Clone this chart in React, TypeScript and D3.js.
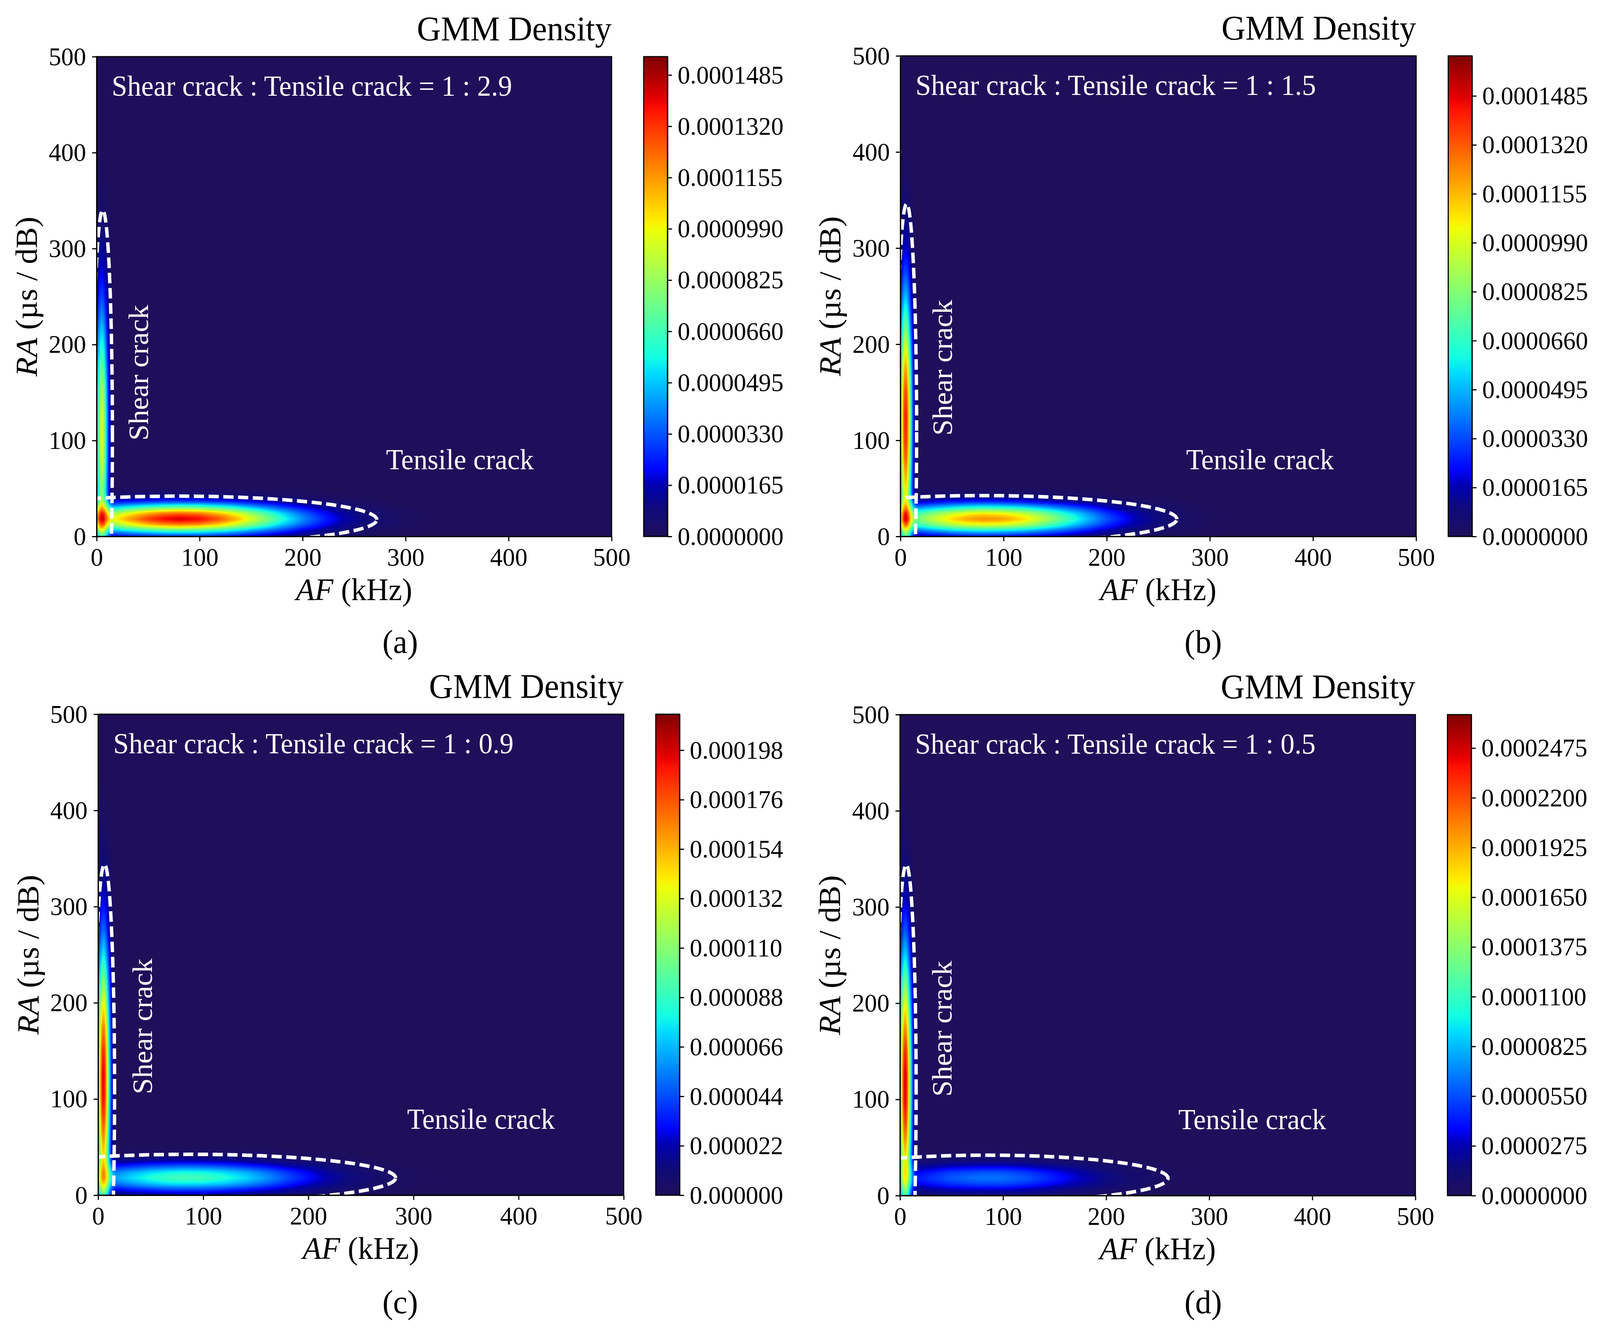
import React, { useEffect, useMemo, useRef } from "react";
import { axisBottom, axisLeft, axisRight, bisectRight, range, scaleLinear, select } from "d3";

// all densities below are in units of 1e-6
const afTicks = [0, 100, 200, 300, 400, 500];
const raTicks = [0, 100, 200, 300, 400, 500];

const stripAf = [0, 2, 4, 5.5, 7, 9, 11, 13, 16];
const stripRa = [0, 6, 12, 18, 24, 30, 36, 42, 50, 60, 80, 100, 125, 150, 175, 200, 225, 250, 275, 300, 325, 350, 375, 400, 425];
const tensileAf = [16, 30, 50, 65, 80, 100, 120, 140, 160, 180, 200, 220, 240, 260, 280, 300, 330];
const tensileRa = [0, 6, 12, 18, 24, 30, 36, 42, 50, 60];

const stripA = [
  [38, 54, 66, 67, 62, 48, 34, 24, 18],
  [63, 80, 94, 96, 90, 76, 61, 52, 46],
  [92, 111, 126, 129, 123, 109, 94, 85, 80],
  [109, 130, 146, 149, 144, 129, 114, 104, 99],
  [100, 121, 138, 141, 135, 119, 102, 91, 85],
  [74, 96, 113, 115, 108, 90, 71, 59, 51],
  [52, 74, 91, 93, 85, 65, 45, 31, 22],
  [41, 64, 81, 83, 74, 53, 31, 16, 6],
  [39, 62, 80, 82, 73, 50, 28, 12, 1],
  [40, 66, 84, 86, 77, 53, 28, 12, 0],
  [44, 72, 92, 94, 84, 58, 31, 13, 0],
  [45, 75, 96, 98, 87, 60, 32, 13, 0],
  [44, 73, 94, 96, 86, 59, 32, 13, 0],
  [41, 68, 87, 89, 79, 55, 29, 12, 0],
  [35, 58, 75, 76, 68, 47, 25, 10, 0],
  [28, 47, 60, 62, 55, 38, 20, 8, 0],
  [21, 35, 45, 46, 41, 28, 15, 6, 0],
  [15, 24, 31, 32, 28, 19, 10, 4, 0],
  [10, 16, 20, 21, 19, 13, 7, 3, 0],
  [6, 10, 13, 13, 11, 8, 4, 2, 0],
  [3, 5, 7, 7, 6, 4, 2, 1, 0],
  [2, 3, 4, 4, 4, 2, 1, 1, 0],
  [1, 2, 2, 2, 2, 1, 1, 0, 0],
  [0, 1, 1, 1, 1, 1, 0, 0, 0],
  [0, 0, 0, 0, 0, 0, 0, 0, 0],
];
const tensileA = [
  [18, 21, 24, 26, 26, 26, 23, 19, 15, 11, 8, 5, 3, 2, 1, 0, 0],
  [46, 53, 61, 65, 67, 65, 59, 50, 39, 29, 19, 12, 7, 4, 2, 1, 0],
  [80, 93, 108, 115, 118, 115, 104, 87, 69, 50, 34, 22, 13, 7, 4, 2, 0],
  [99, 115, 133, 142, 146, 142, 128, 108, 85, 62, 42, 27, 16, 9, 5, 2, 1],
  [85, 99, 114, 122, 126, 122, 110, 93, 73, 53, 36, 23, 14, 8, 4, 2, 0],
  [51, 60, 69, 74, 76, 74, 67, 56, 44, 32, 22, 14, 8, 5, 2, 1, 0],
  [22, 25, 29, 31, 32, 31, 28, 24, 19, 14, 9, 6, 4, 2, 1, 0, 0],
  [6, 7, 8, 9, 9, 9, 8, 6, 5, 4, 3, 2, 1, 1, 0, 0, 0],
  [1, 1, 1, 1, 1, 1, 1, 1, 1, 1, 0, 0, 0, 0, 0, 0, 0],
  [0, 0, 0, 0, 0, 0, 0, 0, 0, 0, 0, 0, 0, 0, 0, 0, 0],
];

const stripB = [
  [41, 59, 73, 75, 68, 51, 34, 23, 15],
  [61, 81, 97, 99, 92, 75, 57, 45, 37],
  [87, 110, 127, 138, 123, 105, 86, 74, 66],
  [102, 127, 154, 159, 148, 122, 102, 89, 81],
  [96, 122, 146, 151, 137, 116, 93, 79, 70],
  [76, 104, 124, 127, 118, 94, 69, 53, 42],
  [59, 88, 109, 112, 102, 75, 48, 31, 18],
  [51, 82, 104, 107, 95, 67, 38, 19, 5],
  [51, 85, 108, 111, 99, 68, 37, 16, 1],
  [55, 91, 116, 119, 106, 73, 39, 16, 0],
  [62, 103, 132, 135, 120, 83, 44, 18, 0],
  [67, 110, 141, 145, 129, 89, 47, 20, 0],
  [69, 113, 145, 149, 132, 91, 49, 20, 0],
  [65, 107, 138, 141, 125, 86, 46, 19, 0],
  [57, 94, 121, 124, 110, 76, 41, 17, 0],
  [46, 76, 98, 100, 89, 61, 33, 14, 0],
  [35, 57, 74, 75, 67, 46, 25, 10, 0],
  [24, 40, 51, 53, 47, 32, 17, 7, 0],
  [16, 26, 33, 34, 30, 21, 11, 5, 0],
  [9, 15, 19, 20, 18, 12, 7, 3, 0],
  [5, 8, 11, 11, 10, 7, 4, 1, 0],
  [3, 5, 6, 6, 5, 4, 2, 1, 0],
  [1, 2, 3, 3, 3, 2, 1, 0, 0],
  [0, 1, 1, 1, 1, 1, 0, 0, 0],
  [0, 0, 0, 0, 0, 0, 0, 0, 0],
];
const tensileB = [
  [15, 17, 20, 22, 23, 22, 20, 17, 13, 10, 6, 4, 2, 1, 1, 0, 0],
  [37, 44, 52, 56, 58, 56, 51, 43, 34, 24, 16, 10, 6, 3, 2, 1, 0],
  [66, 77, 91, 98, 101, 99, 90, 75, 59, 43, 28, 18, 11, 6, 3, 1, 0],
  [81, 95, 112, 121, 125, 122, 111, 93, 73, 53, 35, 22, 13, 7, 3, 2, 0],
  [70, 82, 96, 104, 108, 105, 95, 80, 63, 46, 30, 19, 11, 6, 3, 1, 0],
  [42, 49, 58, 63, 65, 63, 58, 48, 38, 28, 18, 11, 7, 4, 2, 1, 0],
  [18, 21, 25, 27, 28, 27, 24, 20, 16, 12, 8, 5, 3, 2, 1, 0, 0],
  [5, 6, 7, 7, 8, 7, 7, 6, 4, 3, 2, 1, 1, 0, 0, 0, 0],
  [1, 1, 1, 1, 1, 1, 1, 1, 1, 1, 0, 0, 0, 0, 0, 0, 0],
  [0, 0, 0, 0, 0, 0, 0, 0, 0, 0, 0, 0, 0, 0, 0, 0, 0],
];

const stripC = [
  [52, 79, 100, 102, 92, 66, 41, 23, 11],
  [70, 100, 123, 126, 115, 88, 60, 42, 29],
  [91, 125, 149, 153, 142, 113, 83, 64, 51],
  [104, 140, 166, 170, 158, 128, 97, 77, 63],
  [101, 138, 167, 170, 157, 125, 91, 69, 54],
  [87, 127, 156, 160, 146, 110, 74, 50, 33],
  [75, 117, 148, 151, 136, 98, 59, 32, 14],
  [71, 115, 147, 150, 134, 94, 52, 24, 4],
  [72, 119, 153, 157, 139, 96, 52, 22, 1],
  [77, 128, 164, 168, 149, 103, 55, 23, 0],
  [86, 142, 182, 186, 166, 114, 61, 25, 0],
  [92, 152, 195, 199, 177, 122, 65, 27, 0],
  [94, 155, 199, 203, 181, 124, 67, 28, 0],
  [89, 146, 188, 192, 171, 118, 63, 26, 0],
  [79, 130, 167, 171, 152, 104, 56, 23, 0],
  [65, 107, 138, 141, 125, 86, 46, 19, 0],
  [50, 83, 107, 109, 97, 67, 36, 15, 0],
  [36, 60, 77, 78, 70, 48, 26, 11, 0],
  [24, 40, 51, 53, 47, 32, 17, 7, 0],
  [15, 25, 32, 33, 29, 20, 11, 4, 0],
  [9, 14, 18, 19, 17, 12, 6, 3, 0],
  [5, 8, 11, 11, 10, 7, 4, 1, 0],
  [3, 5, 6, 6, 5, 4, 2, 1, 0],
  [1, 2, 3, 3, 3, 2, 1, 0, 0],
  [0, 1, 1, 1, 1, 1, 0, 0, 0],
];
const tensileC = [
  [11, 13, 15, 16, 17, 17, 15, 13, 11, 8, 6, 4, 2, 1, 1, 0, 0],
  [29, 34, 39, 42, 43, 43, 39, 34, 28, 21, 15, 10, 6, 4, 2, 1, 0],
  [51, 59, 69, 74, 76, 75, 69, 60, 49, 36, 26, 17, 11, 6, 3, 2, 1],
  [63, 73, 85, 91, 94, 93, 85, 74, 60, 45, 32, 21, 13, 8, 4, 2, 1],
  [54, 63, 73, 78, 81, 80, 73, 64, 52, 39, 28, 18, 11, 7, 3, 2, 1],
  [33, 38, 44, 47, 49, 48, 44, 38, 31, 23, 17, 11, 7, 4, 2, 1, 0],
  [14, 16, 19, 20, 21, 20, 19, 16, 13, 10, 7, 5, 3, 2, 1, 0, 0],
  [4, 4, 5, 5, 6, 6, 5, 4, 4, 3, 2, 1, 1, 0, 0, 0, 0],
  [1, 1, 1, 1, 1, 1, 1, 1, 1, 0, 0, 0, 0, 0, 0, 0, 0],
  [0, 0, 0, 0, 0, 0, 0, 0, 0, 0, 0, 0, 0, 0, 0, 0, 0],
];

const stripD = [
  [60, 95, 120, 123, 110, 78, 46, 24, 8],
  [73, 111, 138, 142, 128, 94, 59, 35, 19],
  [90, 131, 161, 165, 150, 114, 76, 51, 34],
  [101, 145, 178, 182, 166, 127, 87, 60, 42],
  [101, 148, 183, 187, 171, 128, 85, 56, 36],
  [94, 144, 181, 185, 167, 122, 75, 44, 22],
  [88, 140, 178, 182, 163, 115, 66, 33, 9],
  [88, 143, 183, 187, 167, 116, 63, 28, 3],
  [91, 150, 193, 197, 176, 121, 65, 27, 1],
  [98, 162, 207, 212, 189, 130, 70, 29, 0],
  [109, 180, 231, 236, 210, 144, 77, 32, 0],
  [116, 192, 246, 252, 224, 154, 83, 34, 0],
  [118, 194, 249, 255, 227, 156, 84, 35, 0],
  [111, 183, 234, 240, 213, 147, 79, 33, 0],
  [97, 160, 205, 210, 187, 129, 69, 29, 0],
  [79, 131, 168, 172, 153, 105, 56, 23, 0],
  [60, 100, 128, 131, 116, 80, 43, 18, 0],
  [43, 70, 90, 92, 82, 56, 30, 13, 0],
  [28, 46, 59, 61, 54, 37, 20, 8, 0],
  [17, 28, 36, 37, 33, 22, 12, 5, 0],
  [10, 16, 20, 21, 19, 13, 7, 3, 0],
  [5, 8, 11, 11, 10, 7, 4, 1, 0],
  [2, 4, 5, 5, 4, 3, 2, 1, 0],
  [1, 2, 3, 3, 3, 2, 1, 0, 0],
  [0, 1, 1, 1, 1, 1, 0, 0, 0],
];
const tensileD = [
  [8, 9, 11, 11, 12, 12, 11, 9, 7, 5, 3, 2, 1, 1, 0, 0, 0],
  [19, 23, 27, 29, 30, 30, 27, 23, 17, 13, 8, 5, 3, 1, 1, 0, 0],
  [34, 40, 48, 51, 53, 53, 48, 40, 31, 23, 15, 9, 6, 2, 2, 1, 0],
  [42, 49, 59, 63, 66, 65, 59, 49, 38, 28, 18, 11, 7, 3, 2, 1, 0],
  [36, 42, 51, 54, 57, 56, 51, 42, 33, 24, 15, 9, 6, 3, 2, 1, 0],
  [22, 25, 31, 33, 34, 34, 31, 25, 20, 15, 9, 6, 4, 2, 1, 0, 0],
  [9, 11, 13, 14, 15, 14, 13, 11, 8, 6, 4, 2, 2, 1, 0, 0, 0],
  [3, 3, 4, 4, 4, 4, 4, 3, 2, 2, 1, 1, 0, 0, 0, 0, 0],
  [1, 1, 1, 1, 1, 1, 1, 0, 0, 0, 0, 0, 0, 0, 0, 0, 0],
  [0, 0, 0, 0, 0, 0, 0, 0, 0, 0, 0, 0, 0, 0, 0, 0, 0],
];

const colorTicksA = [0, 16.5, 33, 49.5, 66, 82.5, 99, 115.5, 132, 148.5];
const colorTicksC = [0, 22, 44, 66, 88, 110, 132, 154, 176, 198];
const colorTicksD = [0, 27.5, 55, 82.5, 110, 137.5, 165, 192.5, 220, 247.5];

const panelLetters = ["(a)", "(b)", "(c)", "(d)"];
const crackRatios = ["1 : 2.9", "1 : 1.5", "1 : 0.9", "1 : 0.5"];
const colorMaxima = [154.4, 162, 214, 266];

// dashed ellipses: [centre AF, centre RA, half width, half height]
const tensileEllipses = [
  [80, 17.5, 192, 24.5],
  [80, 18, 188, 24.5],
  [88, 18, 195, 24.5],
  [85, 18, 175, 24],
];
const shearEllipses = [
  [5.9, 105, 9.4, 235],
  [6, 110, 9.7, 236],
  [6, 110, 9.6, 234],
  [6, 110, 9.6, 234],
];
const tensileLabelAt = [
  [281, 70],
  [277, 70],
  [294, 69],
  [270, 69],
];
const shearLabelAt = [
  [50, 100],
  [50, 105],
  [51, 105],
  [50, 103],
];

// layout in reference pixels
const frames = [
  { left: 256, right: 1620, top: 145, bottom: 1373, caption: 1060, captionY: 1671 },
  { left: 2385, right: 3751, top: 143, bottom: 1373, caption: 3187, captionY: 1671 },
  { left: 260, right: 1652, top: 1828, bottom: 3059, caption: 1060, captionY: 3361 },
  { left: 2384, right: 3749, top: 1829, bottom: 3060, caption: 3187, captionY: 3361 },
];

const panels = [
  { strip: stripA, tensile: tensileA, colorTicks: colorTicksA, digits: 7 },
  { strip: stripB, tensile: tensileB, colorTicks: colorTicksA, digits: 7 },
  { strip: stripC, tensile: tensileC, colorTicks: colorTicksC, digits: 6 },
  { strip: stripD, tensile: tensileD, colorTicks: colorTicksD, digits: 7 },
];

const FONT = "'Liberation Serif', 'Times New Roman', serif";

// jet, with the bottom end fading into the navy background of the plots
const colormap = scaleLinear<string>()
  .domain([0, 0.06, 0.107, 0.14, 0.34, 0.375, 0.64, 0.66, 0.89, 0.91, 1])
  .range([
    "rgb(31,15,90)",
    "rgb(14,10,125)",
    "rgb(0,0,178)",
    "rgb(0,4,255)",
    "rgb(0,219,255)",
    "rgb(20,255,226)",
    "rgb(238,255,8)",
    "rgb(255,236,0)",
    "rgb(255,18,0)",
    "rgb(232,0,0)",
    "rgb(127,0,0)",
  ])
  .clamp(true);

const lookup = (xs: number[], ys: number[], rows: number[][], x: number, y: number) => {
  if (x > xs[xs.length - 1] || y > ys[ys.length - 1]) return 0;
  const i = Math.max(0, Math.min(xs.length - 2, bisectRight(xs, x) - 1));
  const j = Math.max(0, Math.min(ys.length - 2, bisectRight(ys, y) - 1));
  const u = (x - xs[i]) / (xs[i + 1] - xs[i]);
  const v = (y - ys[j]) / (ys[j + 1] - ys[j]);
  const low = rows[j][i] * (1 - u) + rows[j][i + 1] * u;
  const high = rows[j + 1][i] * (1 - u) + rows[j + 1][i + 1] * u;
  return low * (1 - v) + high * v;
};

// box smoothing so the grid cells do not show, same idea as imshow's interpolation
const smooth = (values: Float32Array, w: number, h: number, radius: number) => {
  const out = new Float32Array(values.length);
  const size = radius * 2 + 1;
  for (let y = 0; y < h; y++) {
    let sum = 0;
    for (let k = -radius; k <= radius; k++) sum += values[y * w + Math.max(0, Math.min(w - 1, k))];
    for (let x = 0; x < w; x++) {
      out[y * w + x] = sum / size;
      sum += values[y * w + Math.min(w - 1, x + radius + 1)] - values[y * w + Math.max(0, x - radius)];
    }
  }
  const res = new Float32Array(values.length);
  for (let x = 0; x < w; x++) {
    let sum = 0;
    for (let k = -radius; k <= radius; k++) sum += out[Math.max(0, Math.min(h - 1, k)) * w + x];
    for (let y = 0; y < h; y++) {
      res[y * w + x] = sum / size;
      sum += out[Math.min(h - 1, y + radius + 1) * w + x] - out[Math.max(0, y - radius) * w + x];
    }
  }
  return res;
};

const Panel: React.FC<{ index: number }> = ({ index }) => {
  const frame = frames[index];
  const panel = panels[index];
  const vmax = colorMaxima[index];
  const xAxisRef = useRef<SVGGElement>(null);
  const yAxisRef = useRef<SVGGElement>(null);
  const barAxisRef = useRef<SVGGElement>(null);

  const plotW = frame.right - frame.left;
  const plotH = frame.bottom - frame.top;
  const barLeft = frame.right + 85;
  const barW = 63;

  const xScale = scaleLinear().domain([0, 500]).range([frame.left, frame.right]);
  const yScale = scaleLinear().domain([0, 500]).range([frame.bottom, frame.top]);
  const barScale = scaleLinear().domain([0, vmax]).range([frame.bottom, frame.top]);

  const href = useMemo(() => {
    let values = new Float32Array(plotW * plotH);
    for (let row = 0; row < plotH; row++) {
      const ra = yScale.invert(frame.top + row + 0.5);
      for (let col = 0; col < plotW; col++) {
        const af = xScale.invert(frame.left + col + 0.5);
        values[row * plotW + col] =
          af < 16
            ? lookup(stripAf, stripRa, panel.strip, af, ra)
            : lookup(tensileAf, tensileRa, panel.tensile, af, ra);
      }
    }
    values = smooth(smooth(values, plotW, plotH, 3), plotW, plotH, 3);

    const canvas = document.createElement("canvas");
    canvas.width = plotW;
    canvas.height = plotH;
    const ctx = canvas.getContext("2d")!;
    const image = ctx.createImageData(plotW, plotH);
    const palette = range(1024).map((i) => colormap(i / 1023).match(/\d+/g)!.map(Number));
    values.forEach((v, i) => {
      const c = palette[Math.min(1023, Math.round((v / vmax) * 1023))];
      image.data[i * 4] = c[0];
      image.data[i * 4 + 1] = c[1];
      image.data[i * 4 + 2] = c[2];
      image.data[i * 4 + 3] = 255;
    });
    ctx.putImageData(image, 0, 0);
    return canvas.toDataURL("image/png");
  }, [index]);

  useEffect(() => {
    const styleAxis = (g: any) => {
      g.selectAll("line").attr("stroke", "#000").attr("stroke-width", 3);
      g.selectAll("path").attr("stroke", "#000").attr("stroke-width", 3);
      g.selectAll("text").attr("fill", "#000").style("font-family", FONT).style("font-size", "66px");
    };
    select(xAxisRef.current!)
      .call(axisBottom(xScale).tickValues(afTicks).tickSize(12).tickSizeOuter(0).tickPadding(16).tickFormat((d) => `${d}`))
      .call(styleAxis);
    select(yAxisRef.current!)
      .call(axisLeft(yScale).tickValues(raTicks).tickSize(12).tickSizeOuter(0).tickPadding(16).tickFormat((d) => `${d}`))
      .call(styleAxis);
    select(barAxisRef.current!)
      .call(
        axisRight(barScale)
          .tickValues(panel.colorTicks)
          .tickSize(12)
          .tickSizeOuter(0)
          .tickPadding(15)
          .tickFormat((d) => (+d / 1e6).toFixed(panel.digits))
      )
      .call(styleAxis);
  }, [index]);

  const clipId = `plot-clip-${index}`;
  const bands = range(256);
  const bandH = plotH / 256;
  const ellipseStyle = { fill: "none", stroke: "#fff", strokeWidth: 9, strokeDasharray: "27 12" };
  const ellipses = [tensileEllipses[index], shearEllipses[index]];

  return (
    <g>
      <defs>
        <clipPath id={clipId}>
          <rect x={frame.left} y={frame.top} width={plotW} height={plotH} />
        </clipPath>
      </defs>
      <image href={href} x={frame.left} y={frame.top} width={plotW} height={plotH} preserveAspectRatio="none" />
      <g clipPath={`url(#${clipId})`}>
        {ellipses.map((e, i) => (
          <ellipse
            key={i}
            // mirrored so the dash pattern starts at the right tip and runs upward
            transform={`translate(${xScale(e[0])},${yScale(e[1])}) scale(1,-1)`}
            rx={xScale(e[2]) - xScale(0)}
            ry={yScale(0) - yScale(e[3])}
            style={ellipseStyle}
          />
        ))}
      </g>
      <text x={frame.left + 40} y={frame.top + 100} fill="#fff" fontSize={74} fontFamily={FONT}>
        {`Shear crack : Tensile crack = ${crackRatios[index]}`}
      </text>
      <text
        x={xScale(tensileLabelAt[index][0])}
        y={yScale(tensileLabelAt[index][1])}
        fill="#fff"
        fontSize={74}
        fontFamily={FONT}
      >
        Tensile crack
      </text>
      <text
        transform={`translate(${xScale(shearLabelAt[index][0])},${yScale(shearLabelAt[index][1])}) rotate(-90)`}
        fill="#fff"
        fontSize={74}
        fontFamily={FONT}
      >
        Shear crack
      </text>
      <rect x={frame.left} y={frame.top} width={plotW} height={plotH} fill="none" stroke="#000" strokeWidth={3} />
      <g ref={xAxisRef} transform={`translate(0,${frame.bottom})`} />
      <g ref={yAxisRef} transform={`translate(${frame.left},0)`} />

      {bands.map((b) => (
        <rect
          key={b}
          x={barLeft}
          y={frame.bottom - (b + 1) * bandH - 0.5}
          width={barW}
          height={bandH + 1}
          fill={colormap((b + 0.5) / 256)}
        />
      ))}
      <rect x={barLeft} y={frame.top} width={barW} height={plotH} fill="none" stroke="#000" strokeWidth={3} />
      <g ref={barAxisRef} transform={`translate(${barLeft + barW},0)`} />

      <text x={frame.right} y={frame.top - 42} textAnchor="end" fontSize={88} fontFamily={FONT}>
        GMM Density
      </text>
      <text x={(frame.left + frame.right) / 2} y={frame.bottom + 163} textAnchor="middle" fontSize={81} fontFamily={FONT}>
        <tspan fontStyle="italic">AF</tspan> (kHz)
      </text>
      <text
        transform={`translate(${frame.left - 159},${(frame.top + frame.bottom) / 2}) rotate(-90)`}
        textAnchor="middle"
        fontSize={81}
        fontFamily={FONT}
      >
        <tspan fontStyle="italic">RA</tspan> (µs / dB)
      </text>
      <text x={frame.caption} y={frame.captionY} textAnchor="middle" fontSize={85} fontFamily={FONT}>
        {panelLetters[index]}
      </text>
    </g>
  );
};

export default function App() {
  // fill whatever window we get, the capture can come out narrower than the reference
  return (
    <svg
      viewBox="0 0 4238 3404"
      preserveAspectRatio="none"
      style={{ position: "fixed", left: 0, top: 0, width: "100vw", height: "100vh", display: "block", background: "#fff" }}
    >
      {panelLetters.map((_, i) => (
        <Panel key={i} index={i} />
      ))}
    </svg>
  );
}
